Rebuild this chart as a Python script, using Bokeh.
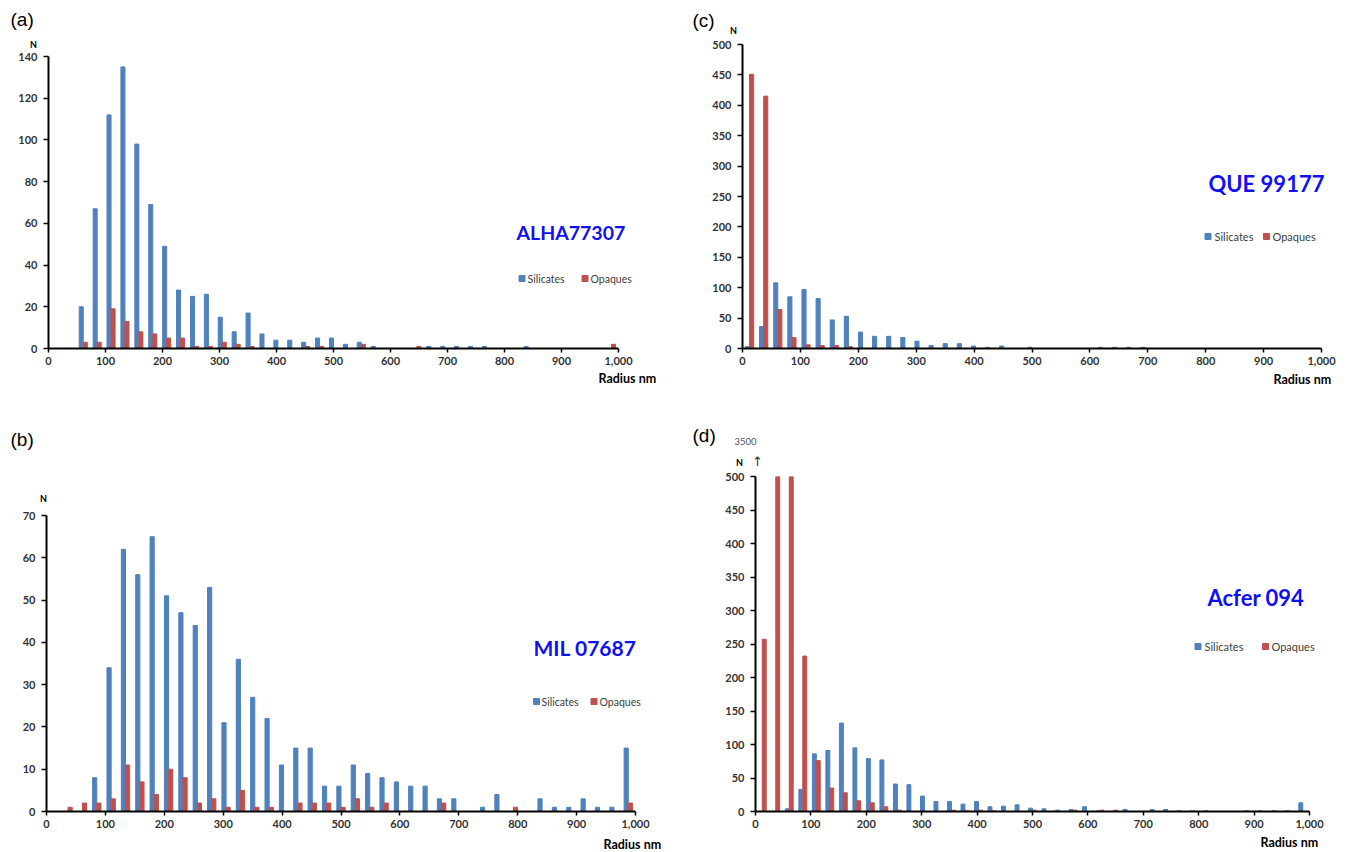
from bokeh.plotting import figure
from bokeh.models import (Range1d, FixedTicker, NumeralTickFormatter,
                          ColumnDataSource)
from bokeh.transform import dodge
from bokeh.core.properties import value
from bokeh.layouts import column, row
from bokeh.embed import file_html
from bokeh.resources import INLINE

# Radius bins (nm), 25 nm wide
radius_bins = [0, 25, 50, 75, 100, 125, 150, 175, 200, 225, 250, 275, 300, 325,
               350, 375, 400, 425, 450, 475, 500, 525, 550, 575, 600, 625, 650,
               675, 700, 725, 750, 775, 800, 825, 850, 875, 900, 925, 950, 975,
               1000]
x_ticks = [0, 100, 200, 300, 400, 500, 600, 700, 800, 900, 1000]

# (a) ALHA77307
alha_silicates = [0, 0, 20, 67, 112, 135, 98, 69, 49, 28, 25, 26, 15, 8, 17, 7,
                  4, 4, 3, 5, 5, 2, 3, 1, 0, 0, 0, 1, 1, 1, 1, 1, 0, 0, 1, 0,
                  0, 0, 0, 0, 0]
alha_opaques = [0, 0, 3, 3, 19, 13, 8, 7, 5, 5, 1, 1, 3, 2, 1, 0, 0, 0, 1, 1,
                0, 0, 2, 0, 0, 0, 1, 0, 0, 0, 0, 0, 0, 0, 0, 0, 0, 0, 0, 0, 2]

# (b) MIL 07687
mil_silicates = [0, 0, 0, 8, 34, 62, 56, 65, 51, 47, 44, 53, 21, 36, 27, 22, 11,
                 15, 15, 6, 6, 11, 9, 8, 7, 6, 6, 3, 3, 0, 1, 4, 0, 0, 3, 1, 1,
                 3, 1, 1, 15]
mil_opaques = [0, 1, 2, 2, 3, 11, 7, 4, 10, 8, 2, 3, 1, 5, 1, 1, 0, 2, 2, 2, 1,
               3, 1, 2, 0, 0, 0, 2, 0, 0, 0, 0, 1, 0, 0, 0, 0, 0, 0, 0, 2]

# (c) QUE 99177
que_silicates = [3, 36, 108, 85, 97, 82, 47, 53, 27, 20, 20, 18, 12, 5, 8, 8, 4,
                 2, 4, 0, 2, 0, 0, 0, 0, 2, 2, 2, 2, 0, 0, 0, 0, 0, 0, 0, 0, 0,
                 0, 0, 0]
que_opaques = [451, 415, 64, 18, 6, 5, 5, 3, 0, 0, 0, 0, 0, 0, 0, 0, 0, 0, 0, 0,
               0, 0, 0, 0, 0, 0, 0, 0, 0, 0, 0, 0, 0, 0, 0, 0, 0, 0, 0, 0, 0]

# (d) Acfer 094  (second and third opaque bins run off the 500 scale)
acfer_silicates = [0, 0, 4, 33, 86, 91, 132, 95, 79, 77, 41, 40, 23, 15, 15, 11,
                   15, 7, 8, 10, 5, 4, 2, 3, 7, 1, 0, 3, 0, 3, 3, 1, 1, 1, 0, 0,
                   1, 1, 1, 1, 13]
acfer_opaques = [257, 3500, 1200, 232, 76, 35, 28, 16, 13, 7, 2, 0, 0, 0, 2, 1,
                 2, 1, 0, 0, 2, 0, 0, 2, 0, 2, 2, 0, 0, 0, 0, 0, 0, 0, 0, 0, 0,
                 0, 0, 0, 0]

BLUE = "#4F81BD"
RED = "#C0504D"
UI_FONT = "Lato"
TITLE_BLUE = "#1010F5"

# every bin gets an equal slot across the 0-1000 nm axis
SLOT = 1000 / len(radius_bins)
slot_centres = [(i + 0.5) * SLOT for i in range(len(radius_bins))]
BAR_W = 0.29 * SLOT


def make_panel(letter, name, silicates, opaques, ymax, ystep,
               origin, width, height, borders, axis_top, look):
    left, right, top, bottom = borders
    ox, oy = origin
    # frame edges on the page; plots in a row share their frame top/bottom,
    # so the y axis is bounded and may stop below the frame top
    fl, fr = ox + left, ox + width - right
    ft, fb = oy + top, oy + height - bottom
    y_hi = ymax * (fb - ft) / (fb - axis_top)

    def to_data(px, py):
        return ((px - fl) / (fr - fl) * 1000, (fb - py) / (fb - ft) * y_hi)

    p = figure(width=width, height=height,
               x_range=Range1d(0, 1000), y_range=Range1d(0, y_hi),
               output_backend="svg", toolbar_location=None,
               min_border_left=left, min_border_right=right,
               min_border_top=top, min_border_bottom=bottom)
    p.outline_line_color = None
    p.grid.visible = False
    p.background_fill_color = "white"
    p.border_fill_color = "white"

    # bars above the top of the scale are cut off at it
    top_sil = [min(v, ymax) for v in silicates]
    top_opq = [min(v, ymax) for v in opaques]
    src = ColumnDataSource(dict(radius=radius_bins, slot=slot_centres,
                                sil=silicates, opq=opaques,
                                sil_top=top_sil, opq_top=top_opq))
    p.vbar(x=dodge("slot", -BAR_W / 2), top="sil_top", width=BAR_W,
           color=BLUE, source=src)
    p.vbar(x=dodge("slot", BAR_W / 2), top="opq_top", width=BAR_W,
           color=RED, source=src)

    xax = p.xaxis[0]
    yax = p.yaxis[0]
    xax.ticker = FixedTicker(ticks=x_ticks)
    xax.formatter = NumeralTickFormatter(format="0,0")
    yax.ticker = FixedTicker(ticks=list(range(0, ymax + 1, ystep)))
    yax.bounds = (0, ymax)
    for ax in (xax, yax):
        ax.axis_line_color = "black"
        ax.axis_line_width = 2
        ax.major_tick_line_color = "black"
        ax.major_tick_line_width = 1.5
        ax.major_tick_in = 0
        ax.minor_tick_line_color = None
        ax.major_label_text_font = UI_FONT
        ax.major_label_text_font_style = "bold"
        ax.major_label_text_font_size = "11px"
        ax.major_label_text_color = "#333333"
    xax.major_tick_out = 4
    xax.major_label_standoff = 4
    yax.major_tick_out = 5
    yax.major_label_standoff = 6

    def put(px, py, text, size, bold=False, color="black", font=UI_FONT,
            align="left"):
        x, y = to_data(px, py)
        p.text(x=[x], y=[y], text=[text], text_font=value(font),
               text_font_size=size,
               text_font_style="bold" if bold else "normal",
               text_color=color, text_align=align, text_baseline="middle",
               level="overlay")

    put(*look["letter"], letter, "19px", font="Liberation Sans")
    put(*look["n"], "N", "9px", bold=True, align="center")
    put(*look["title"][:2], name, look["title"][2], bold=True,
        color=TITLE_BLUE)
    put(*look["xlabel"], "Radius nm", "12.5px", bold=True)

    # legend: small squares followed by the series names
    (bx, by, btx), (rx, ry, rtx), lsize = look["legend"]
    for sx, sy, tx, colour, label in ((bx, by, btx, BLUE, "Silicates"),
                                      (rx, ry, rtx, RED, "Opaques")):
        qx, qy = to_data(sx, sy)
        p.scatter(x=[qx], y=[qy], marker="square", size=6, color=colour,
                  level="overlay")
        put(tx, sy, label, lsize, color="#404040")
    return p, put


pa, _ = make_panel("(a)", "ALHA77307", alha_silicates, alha_opaques, 140, 20,
                   (0, 0), 680, 425, (48, 62, 44, 77), 56,
                   {"letter": (10, 19), "n": (33, 44),
                    "title": (516, 232, "19.5px"), "xlabel": (598, 378),
                    "legend": ((521.5, 278, 527), (584.5, 278, 590), "10.5px")})

pc, _ = make_panel("(c)", "QUE 99177", que_silicates, que_opaques, 500, 50,
                   (680, 0), 669, 425, (62, 28, 44, 77), 44,
                   {"letter": (692, 20), "n": (733, 30),
                    "title": (1208, 183, "22px"), "xlabel": (1273, 378.5),
                    "legend": ((1207.5, 236, 1214), (1266, 236, 1272), "11px")})

pb, _ = make_panel("(b)", "MIL 07687", mil_silicates, mil_opaques, 70, 10,
                   (0, 425), 680, 427, (46, 45, 51, 41), 515,
                   {"letter": (10, 439), "n": (43, 498),
                    "title": (533, 647, "21px"), "xlabel": (603, 844),
                    "legend": ((536, 701, 541), (593.5, 701, 599), "10.5px")})

pd_, put_d = make_panel("(d)", "Acfer 094", acfer_silicates, acfer_opaques,
                        500, 50, (680, 425), 669, 427, (75, 40, 51, 41), 476,
                        {"letter": (692, 435), "n": (739, 462),
                         "title": (1207, 597, "22px"), "xlabel": (1260, 842),
                         "legend": ((1197.5, 646, 1204), (1265, 646, 1271),
                                    "11px")})

# off-scale marker for the tallest opaque bin
put_d(745, 441, "3500", "9.5px", color="#555555", align="center")
put_d(757, 461, "\u2191", "13px", color="#333333", font="DejaVu Sans",
      align="center")

layout = column(row(pa, pc), row(pb, pd_))

with open("out.html", "w") as f:
    f.write(file_html(layout, INLINE))
